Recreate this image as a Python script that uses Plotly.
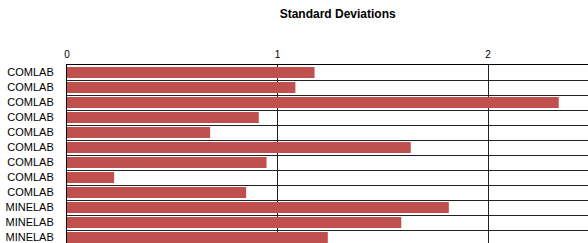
import plotly.graph_objects as go

labels = ["COMLAB"] * 9 + ["MINELAB"] * 3
values = [1.176, 1.085, 2.336, 0.911, 0.680, 1.633, 0.948, 0.224, 0.851, 1.814, 1.588, 1.239]
x_ticks = [0, 1, 2]

pos = list(range(len(labels)))
bounds = [i - 0.5 for i in range(len(labels) + 1)]

fig = go.Figure(go.Bar(
    x=values, y=pos, orientation="h", width=0.72,
    marker=dict(color="#C0504D", line=dict(width=0)),
    hoverinfo="skip",
))

font = "Liberation Sans, Arial, sans-serif"
yr = [11.367, -0.5]
fig.update_layout(
    width=588, height=243,
    margin=dict(l=67, r=0, t=65, b=0),
    paper_bgcolor="white", plot_bgcolor="white",
    showlegend=False,
    font=dict(family=font, color="#000", size=11),
    title=dict(text="<b>Standard Deviations</b>", x=305.5 / 588, xref="paper",
               xanchor="center", y=1 - 14 / 243, yanchor="middle",
               font=dict(size=12, family=font, color="#000")),
    xaxis=dict(
        side="top", range=[0, 2.475], tickvals=x_ticks,
        ticktext=[str(v) for v in x_ticks],
        showgrid=True, gridcolor="#222", gridwidth=1,
        zeroline=False, showline=True, linecolor="#000", linewidth=1,
        ticks="", ticklabelstandoff=2, tickfont=dict(size=10),
    ),
    yaxis=dict(
        range=yr, tickvals=pos, ticktext=labels,
        showgrid=False, zeroline=False,
        showline=True, linecolor="#000", linewidth=1,
        ticks="", ticklabelstandoff=10, tickfont=dict(size=11),
        ticklabeloverflow="allow",
        minor=dict(tickvals=bounds, showgrid=True, gridcolor="#222", gridwidth=1, ticks=""),
    ),
    yaxis2=dict(
        overlaying="y", anchor="x", range=yr,
        tickvals=[b + 1 / 15 for b in bounds],
        showticklabels=False, showgrid=True, gridcolor="#bbb", gridwidth=1,
        zeroline=False, showline=False, ticks="",
    ),
)

fig.write_html(
    "out.html",
    config={"displayModeBar": False},
    post_script="document.body.style.margin='0';document.body.style.overflow='hidden';",
)
